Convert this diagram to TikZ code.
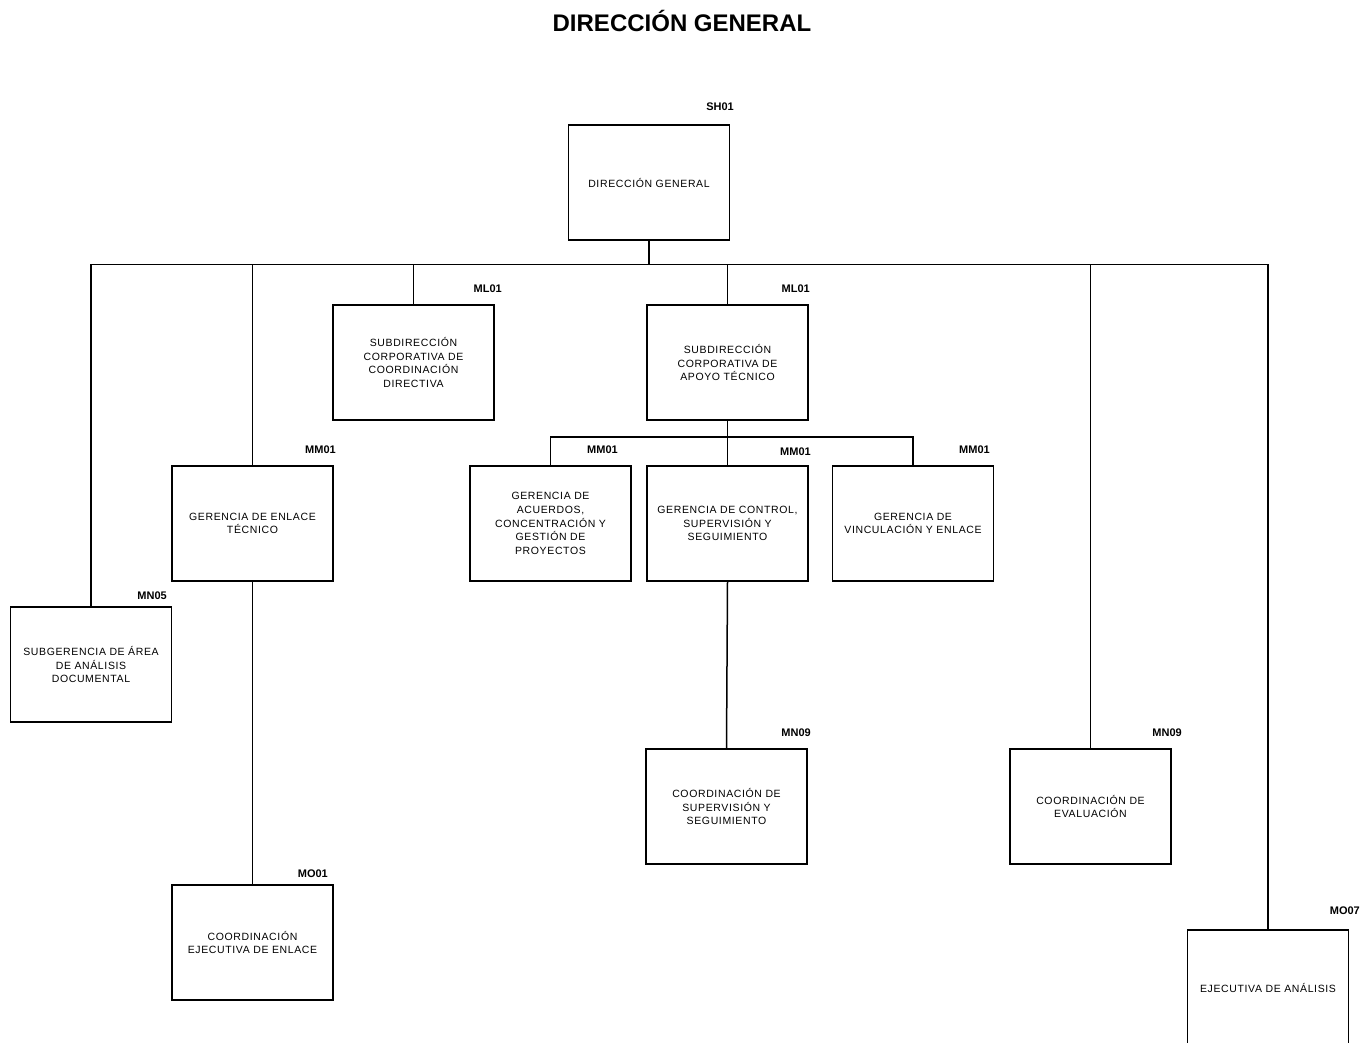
\documentclass[tikz,border=0pt]{standalone}
\usepackage{fontspec}
\setmainfont{Liberation Sans}
\newfontfamily\boxfont[LetterSpace=6]{Liberation Sans}
\begin{document}
\begin{tikzpicture}[x=1pt,y=-1pt,
  unit/.style={draw, line width=1.5pt, minimum width=161pt, minimum height=115pt,
    inner sep=0pt, align=center, text width=156pt,
    font=\boxfont\fontsize{10.5}{13.6}\selectfont},
  code/.style={anchor=east, inner sep=0pt, font=\bfseries\fontsize{11}{13}\selectfont},
  link/.style={line width=1.5pt}]
\useasboundingbox (0,0) rectangle (1363,1042);
\clip (0,0) rectangle (1363,1042);

% title
\node[font=\bfseries\fontsize{24}{28}\selectfont] (title) at (682,21) {DIRECCIÓN GENERAL};

% units
\node[unit] (dg)   at (649,182.5)  {DIRECCIÓN GENERAL};
\node[unit] (sccd) at (413.5,362.5) {SUBDIRECCIÓN\\CORPORATIVA DE\\COORDINACIÓN\\DIRECTIVA};
\node[unit] (scat) at (727.5,362.5) {SUBDIRECCIÓN\\CORPORATIVA DE\\APOYO TÉCNICO};
\node[unit] (get)  at (252.5,523.5) {GERENCIA DE ENLACE\\TÉCNICO};
\node[unit] (gacg) at (550.5,523.5) {GERENCIA DE\\ACUERDOS,\\CONCENTRACIÓN Y\\GESTIÓN DE\\PROYECTOS};
\node[unit] (gcss) at (727.5,523.5) {GERENCIA DE CONTROL,\\SUPERVISIÓN Y\\SEGUIMIENTO};
\node[unit] (gve)  at (913,523.5)   {GERENCIA DE\\VINCULACIÓN Y ENLACE};
\node[unit] (sad)  at (91,664.5)    {SUBGERENCIA DE ÁREA\\DE ANÁLISIS\\DOCUMENTAL};
\node[unit] (css)  at (726.5,806.5) {COORDINACIÓN DE\\SUPERVISIÓN Y\\SEGUIMIENTO};
\node[unit] (ce)   at (1090.5,806.5) {COORDINACIÓN DE\\EVALUACIÓN};
\node[unit] (cee)  at (252.5,942.5) {COORDINACIÓN\\EJECUTIVA DE ENLACE};
\node[unit] (ea)   at (1268,987.5)  {EJECUTIVA DE ANÁLISIS};

% level codes
\node[code] (c-dg)   at (734,107)  {SH01};
\node[code] (c-sccd) at (502,289)  {ML01};
\node[code] (c-scat) at (810,289)  {ML01};
\node[code] (c-get)  at (336,450)  {MM01};
\node[code] (c-gacg) at (618,450)  {MM01};
\node[code] (c-gcss) at (811,452)  {MM01};
\node[code] (c-gve)  at (990,450)  {MM01};
\node[code] (c-sad)  at (167,596)  {MN05};
\node[code] (c-css)  at (811,733)  {MN09};
\node[code] (c-ce)   at (1182,733) {MN09};
\node[code] (c-cee)  at (328,874)  {MO01};
\node[code] (c-ea)   at (1360,911) {MO07};

% main bus under the general direction
\coordinate (bus) at (649,264.5);
\draw[link] (dg.south) -- (bus);
\draw[link] (sad.north) |- (bus) -| (ea.north);
\draw[link] (bus -| get.north) -- (get.north);
\draw[link] (bus -| sccd.north) -- (sccd.north);
\draw[link] (bus -| scat.north) -- (scat.north);
\draw[link] (bus -| ce.north) -- (ce.north);
\draw[link] (get.south) -- (cee.north);

% bus under the technical support subdirection
\coordinate (sub) at (727.5,437);
\draw[link] (scat.south) -- (sub);
\draw[link] (gacg.north) |- (sub) -| (gve.north);
\draw[link] (sub) -- (gcss.north);
\draw[link] (gcss.south) -- (css.north);
\end{tikzpicture}
\end{document}
